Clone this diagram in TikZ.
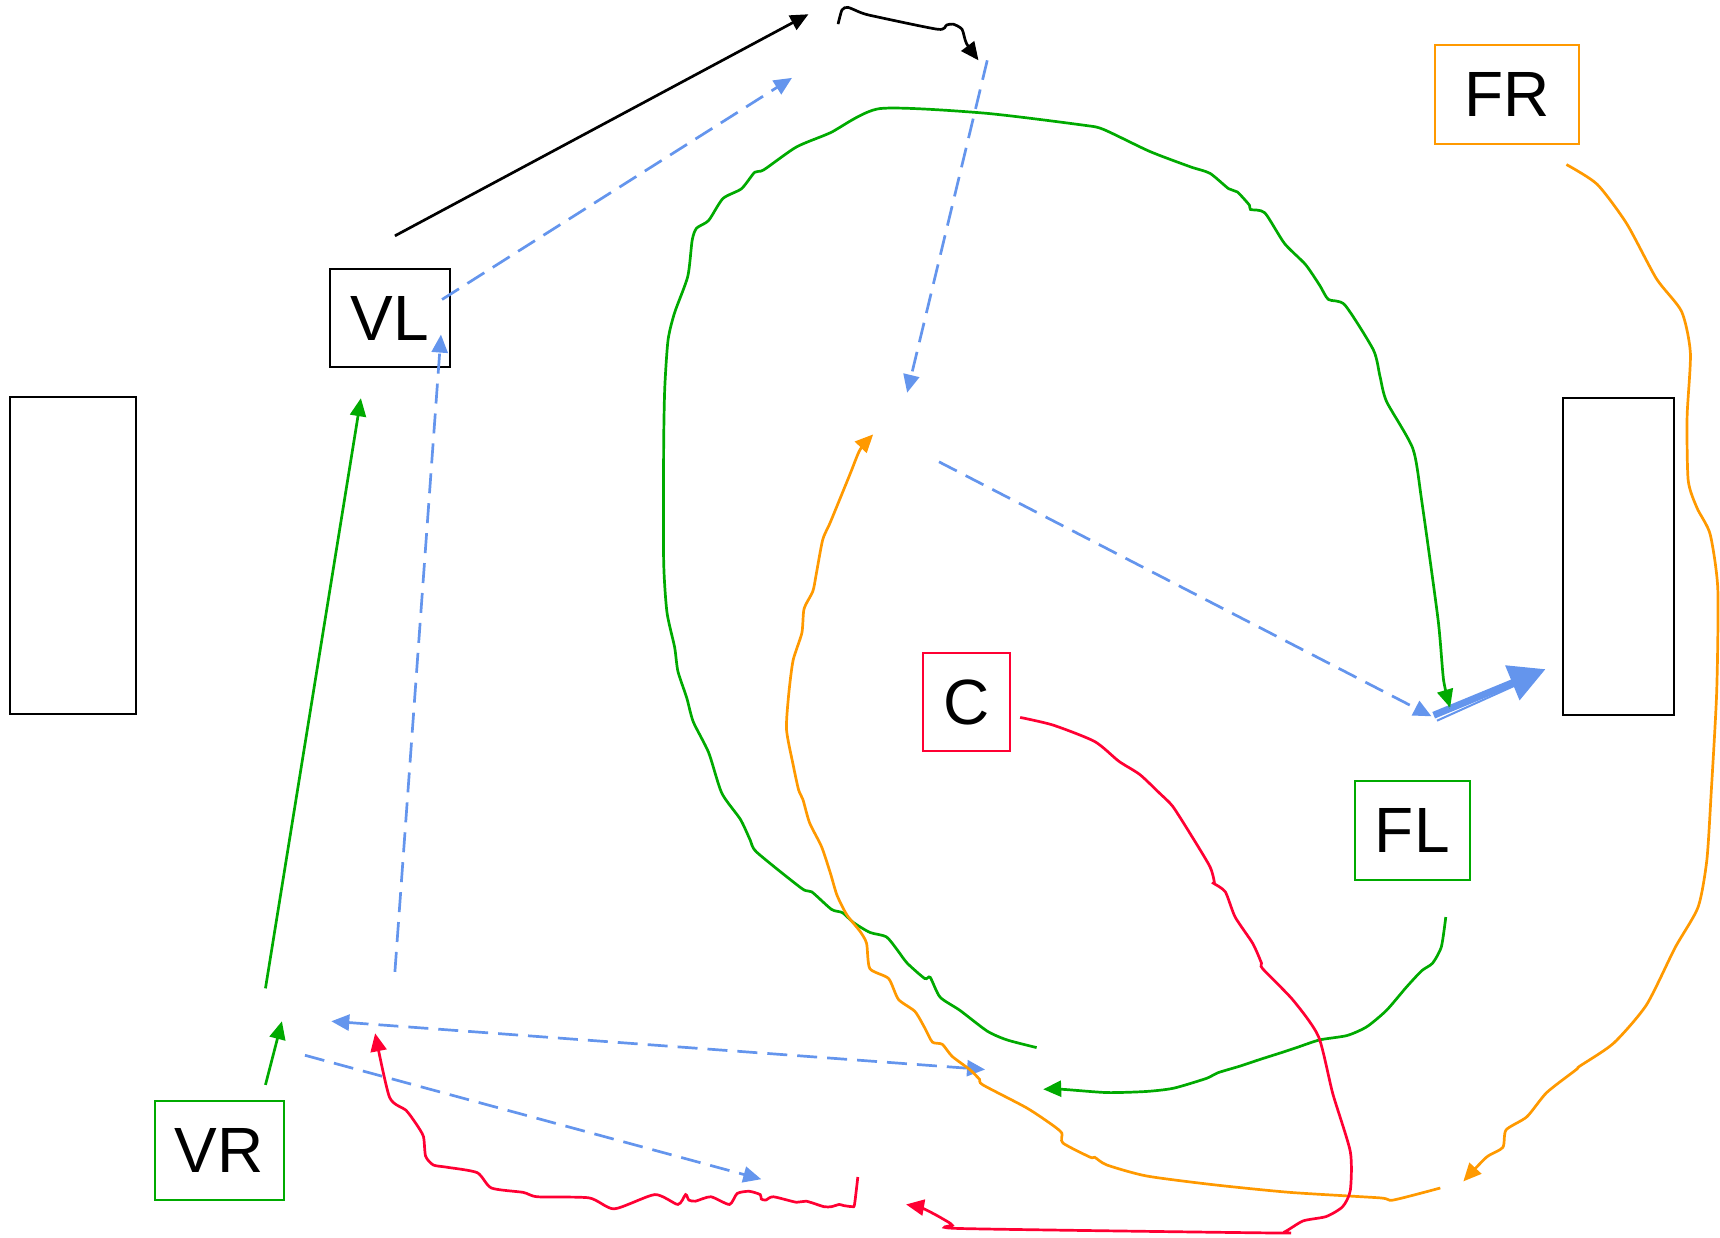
\documentclass[tikz,border=0pt]{standalone}
\usepackage{fontspec}
\setmainfont{Liberation Sans}
\usepackage{xcolor}
\usepackage{tikz}
\usetikzlibrary{arrows.meta, positioning}
\definecolor{flowblue}{HTML}{6495ED}
\definecolor{flowgreen}{HTML}{00AA00}
\definecolor{floworange}{HTML}{FF9900}
\definecolor{flowred}{HTML}{FF0033}
\newcommand{\unitpx}{0.5486pt}

\begin{document}
\begin{tikzpicture}[
  x=0.5486pt, y=-0.5486pt,
  box/.style={rectangle, draw=black, line width=1pt, inner sep=0pt,
             minimum width=105*\unitpx, minimum height=90*\unitpx,
             font=\fontsize{32}{38}\selectfont},
  barbox/.style={box, line width=1.1pt},
  vbox/.style={box, draw=black},
  frbox/.style={box, draw=floworange},
  cbox/.style={box, draw=flowred},
  flbox/.style={box, draw=flowgreen},
  arrow/.style={-{Triangle[length=9pt,width=8pt]}, line width=1.35pt},
  blackflow/.style={arrow, draw=black},
  blueflow/.style={arrow, draw=flowblue, dash pattern=on 10pt off 5pt},
  greenflow/.style={arrow, draw=flowgreen},
  orangeflow/.style={arrow, draw=floworange},
  redflow/.style={arrow, draw=flowred},
  wiggle/.style={smooth, tension=0.4}
]
\useasboundingbox (0,0) rectangle (1568,1128);

% boxes
\node[barbox, minimum width=115*\unitpx, minimum height=289*\unitpx] (lbar) at (66.5,506.5) {};
\node[barbox, minimum width=101*\unitpx, minimum height=289*\unitpx] (rbar) at (1475.5,507.5) {};
\node[vbox, minimum width=109*\unitpx] (vl) at (355.5,290) {VL};
\node[frbox, minimum width=131*\unitpx] (fr) at (1373.5,86) {FR};
\node[cbox, minimum width=80*\unitpx] (c) at (881,640) {C};
\node[flbox] (fl) at (1287.5,757) {FL};
\node[flbox, minimum width=118*\unitpx] (vr) at (200,1049) {VR};

% free ends of the connectors
\coordinate (k1s) at (360,215);   \coordinate (k1e) at (737,13);
\coordinate (k2s) at (764,22);    \coordinate (k2e) at (892,55);
\coordinate (b1s) at (403,273);   \coordinate (b1e) at (722,71);
\coordinate (b2s) at (900,55);    \coordinate (b2e) at (827,358);
\coordinate (b3s) at (856,421);   \coordinate (b3e) at (1305,653);
\coordinate (b4s) at (360,886);   \coordinate (b4e) at (402,305);
\coordinate (b5s) at (302,931);   \coordinate (b5e) at (898,975);
\coordinate (b6s) at (278,962);   \coordinate (b6e) at (694,1075);
\coordinate (b7s) at (1307,652);  \coordinate (b7e) at (1409,610);
\coordinate (b8s) at (1310,657);  \coordinate (b8e) at (1381,625);
\coordinate (g1s) at (242,901);   \coordinate (g1e) at (329,363);
\coordinate (g2s) at (242,989);   \coordinate (g2e) at (257,931);
\coordinate (g3s) at (945,955);   \coordinate (g3e) at (1322,645);
\coordinate (g4s) at (1318,836);  \coordinate (g4e) at (951,993);
\coordinate (o1s) at (1428,150);  \coordinate (o1e) at (1334,1077);
\coordinate (o2s) at (1313,1083); \coordinate (o2e) at (796,396);
\coordinate (r1s) at (930,654);   \coordinate (r1e) at (826,1098);
\coordinate (r2s) at (782,1073);  \coordinate (r2e) at (342,942);

% black
\draw[blackflow] (k1s) -- (k1e);
\draw[blackflow] plot[wiggle] coordinates {(k2s) (767.6,9) (773,6.7) (785,11.6)
  (796,14.6) (855,26.7) (863,22.8) (869,22) (877,26.7) (881,39.5) (k2e)};

% blue
\draw[blueflow] (b1s) -- (b1e);
\draw[blueflow] (b2s) -- (b2e);
\draw[blueflow] (b3s) -- (b3e);
\draw[blueflow] (b4s) -- (b4e);
\draw[blueflow, {Triangle[length=9pt,width=8pt]}-{Triangle[length=9pt,width=8pt]}] (b5s) -- (b5e);
\draw[blueflow] (b6s) -- (b6e);
\draw[draw=flowblue, line width=3.5pt, -{Triangle[length=18pt,width=18pt]}] (b7s) -- (b7e);
\draw[draw=flowblue, line width=1pt] (b8s) -- (b8e);

% green
\draw[greenflow] (g1s) -- (g1e);
\draw[greenflow] (g2s) -- (g2e);
\draw[greenflow] plot[wiggle] coordinates {(g3s) (918,948) (900,940) (875,921)
  (857,909) (848,891) (843,892) (827,878) (818,866) (808,854) (793,850) (778,841)
  (768,832) (758,829) (740,813) (731,810) (690,777) (684,766) (675,747) (658,723)
  (646,686) (632,658) (626,636) (618,612) (615,590) (608,558) (605,511) (605,408)
  (606,354) (609,310) (615,285) (627,252) (631,219) (635,208) (646,201) (659,181)
  (676,172) (688,157) (696,155) (726,134) (757,121) (802,99) (896,103) (987,114)
  (1006,118) (1048,138) (1085,152) (1103,158) (1120,172) (1128,175) (1139,187)
  (1140,191) (1153,194) (1171,222) (1190,241) (1203,260) (1211,273) (1226,278)
  (1252,319) (1258,343) (1264,366) (1288,409) (1296,456) (1311,565) (1316,620) (g3e)};
\draw[greenflow] plot[wiggle] coordinates {(g4s) (1314,863) (1306,878) (1296,885)
  (1282,900) (1264,921) (1246,936) (1228,944) (1203,948) (1182,955) (1170,959)
  (1148,966) (1130,972) (1110,978) (1100,983) (1070,992) (1045,995) (1009,996)
  (968,993) (g4e)};

% orange
\draw[orangeflow] plot[wiggle] coordinates {(o1s) (1456,168) (1483,204) (1510,254)
  (1533,284) (1541,322) (1538,380) (1539,438) (1547,463) (1559,487) (1566,537)
  (1565,630) (1560,722) (1556,784) (1548,827) (1527,864) (1501,916) (1471,951)
  (1440,972) (1437,975) (1410,996) (1392,1018) (1373,1030) (1370,1046) (1355,1055) (o1e)};
\draw[orangeflow] plot[wiggle] coordinates {(o2s) (1270,1094) (1258,1092) (1176,1087)
  (1106,1080) (1045,1072) (1009,1062) (998,1055) (994,1055) (969,1042) (968,1033)
  (960,1026) (936,1010) (896,989) (893,984) (884,975) (868,963) (859,952) (850,950)
  (843,937) (834,922) (819,911) (810,892) (793,883) (790,860) (784,849) (772,834)
  (763,816) (757,796) (749,772) (738,750) (732,729) (728,720) (723,697) (717,665)
  (719,633) (723,602) (731,577) (733,555) (741,539) (744,524) (750,492) (757,476)
  (775,432) (784,410) (o2e)};

% red
\draw[redflow] plot[wiggle] coordinates {(r1s) (960,661) (998,676) (1020,694)
  (1039,706) (1057,723) (1069,735) (1085,760) (1103,790) (1107,804) (1106,805)
  (1117,813) (1126,836) (1142,860) (1150,878) (1151,883) (1179,912) (1202,945)
  (1215,997) (1231,1050) (1231,1085) (1224,1100) (1209,1109) (1188,1113)
  (1171,1123) (1160,1124) (878,1120) (868,1117) (866,1115) (854,1108) (840,1101) (r1e)};
\draw[redflow] plot[wiggle] coordinates {(r2s) (779,1098) (777,1100) (769,1099)
  (765,1098) (758,1100) (751,1100) (735,1095) (726,1096) (705,1091) (698,1094)
  (694,1093) (693,1089) (683,1086) (672,1088) (665,1098) (648,1091) (634,1095)
  (628,1094) (625,1089) (618,1098) (597,1089) (560,1102) (537,1092) (490,1091)
  (477,1087) (448,1083) (435,1069) (407,1064) (395,1062) (388,1054) (386,1036)
  (379,1024) (370,1012) (355,1000) (r2e)};
\end{tikzpicture}
\end{document}
